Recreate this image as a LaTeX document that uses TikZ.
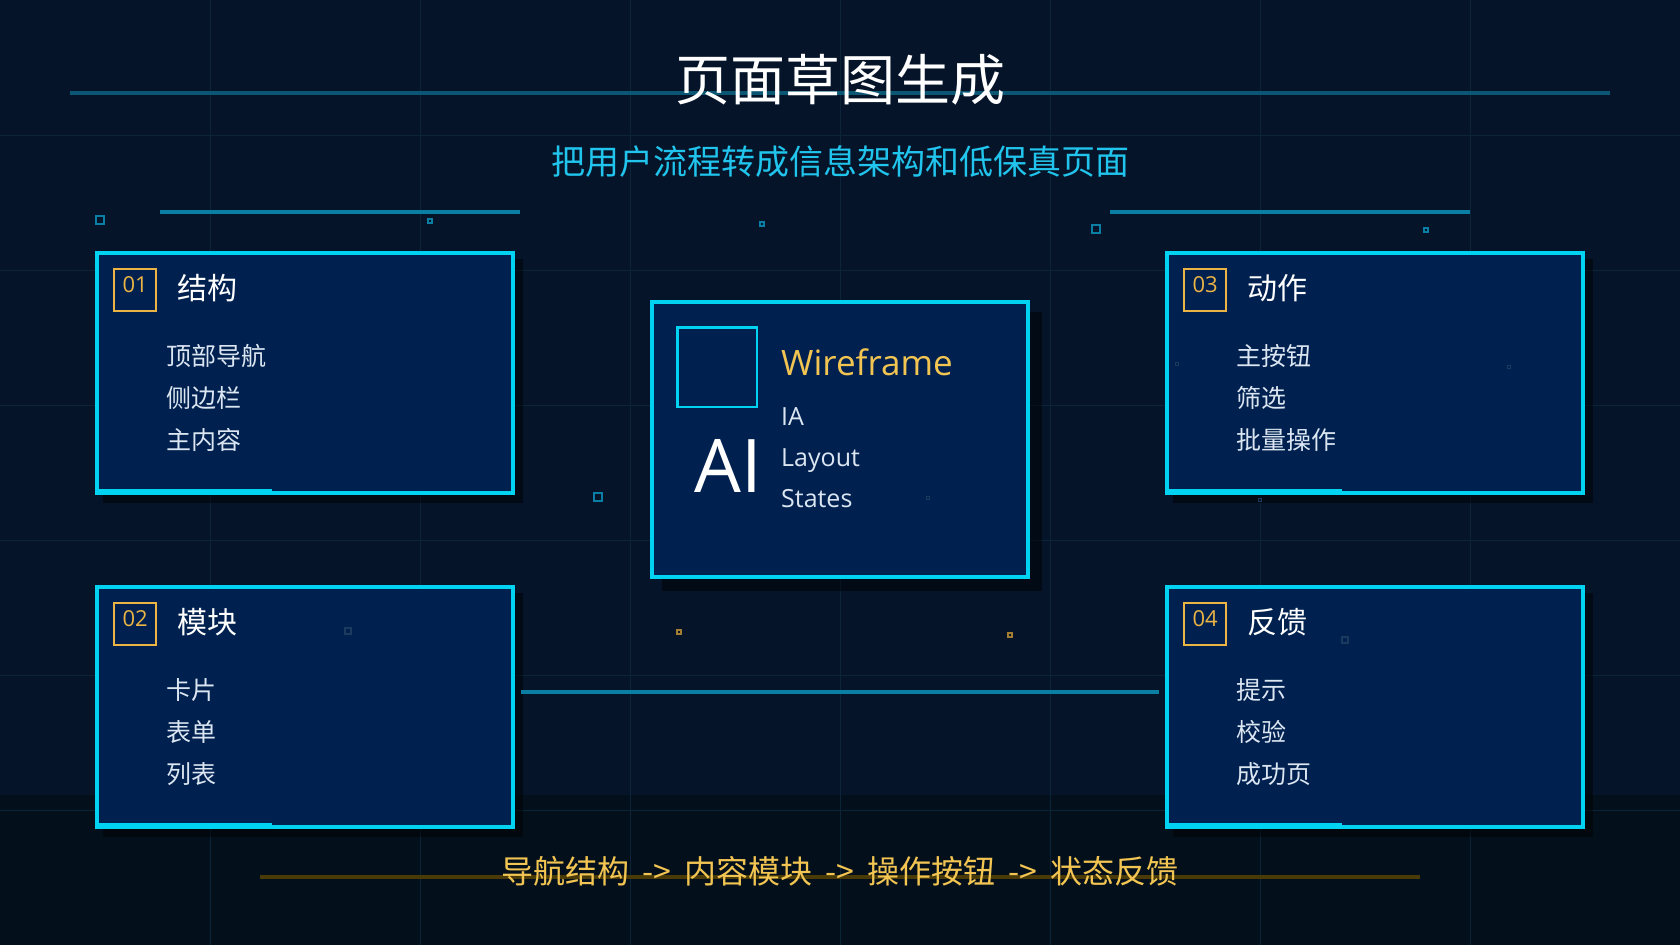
\documentclass[tikz,border=0pt]{standalone}
\usepackage{fontspec}
\setmainfont{Noto Sans CJK SC}
\newfontfamily\wirefont{Open Sans}
\usetikzlibrary{positioning}

\definecolor{bgnavy}{HTML}{051429}
\definecolor{bandnavy}{HTML}{03101B}
\definecolor{gridblue}{HTML}{0B2438}
\definecolor{cardfill}{HTML}{00214F}
\definecolor{neon}{HTML}{00D2F2}
\definecolor{tealline}{HTML}{0A7FA3}
\definecolor{titleline}{HTML}{0B5673}
\definecolor{amber}{HTML}{EBB444}
\definecolor{subcyan}{HTML}{20C4EC}
\definecolor{itemfg}{HTML}{DCE6F2}
\definecolor{oliveline}{HTML}{4A3A05}
\definecolor{wiregold}{HTML}{F2C452}
\definecolor{dimdot}{HTML}{1B3A5E}

\tikzset{
    card/.style={draw=neon, line width=4pt, fill=cardfill, anchor=north west,
        minimum width=416pt, minimum height=240pt, inner sep=0pt},
    cardshadow/.style={fill=black, opacity=0.45},
    accent/.style={draw=neon, line width=2.5pt},
    numbox/.style={draw=amber, line width=2.2pt, minimum size=42pt, inner sep=0pt, anchor=north west},
    numlabel/.style={text=amber, inner sep=0pt, anchor=base, font=\wirefont\fontsize{22}{22}\selectfont},
    cardtitle/.style={text=white, inner sep=0pt, anchor=west, font=\fontsize{30}{30}\selectfont},
    itemlabel/.style={text=itemfg, inner sep=0pt, anchor=west, font=\fontsize{25}{25}\selectfont},
    wirelabel/.style={text=itemfg, inner sep=0pt, anchor=base west, font=\wirefont\fontsize{25}{25}\selectfont},
    dot/.style={draw=tealline, line width=2pt, minimum size=8pt, inner sep=0pt},
    tinydot/.style={draw=tealline, line width=2pt, minimum size=4pt, inner sep=0pt},
    golddot/.style={draw=amber!70!black, line width=2pt, minimum size=4pt, inner sep=0pt},
    faintdot/.style={draw=dimdot, line width=1.5pt, minimum size=6pt, inner sep=0pt},
    link/.style={draw=tealline, line width=4pt, shorten <=6pt, shorten >=6pt},
}

\newcommand{\stepcard}[8]{%
    \fill[cardshadow] (#2+8,#3+8) rectangle ++(420,244);
    \node[card] (#1) at (#2,#3) {};
    \draw[accent] (#2+2,#3+238.8) -- ++(175,0);
    \node[numbox] (#1n) at (#2+18,#3+17) {};
    \node[numlabel] (#1t) at ([yshift=-24pt]#1n.north) {#4};
    \node[cardtitle, right=20pt of #1n, yshift=2pt] (#1h) {#5};
    \node[itemlabel] (#1a) at (#2+71,#3+105) {#6};
    \node[itemlabel] (#1b) at ([yshift=-42pt]#1a.west) {#7};
    \node[itemlabel] (#1c) at ([yshift=-42pt]#1b.west) {#8};
}
\newcommand{\flowarrow}{\hspace{13pt}->\hspace{13pt}}

\begin{document}
\begin{tikzpicture}[x=1pt, y=-1pt]
    \useasboundingbox (0,0) rectangle (1680,945);
    \fill[bgnavy] (0,0) rectangle (1680,945);
    \fill[bandnavy] (0,795) rectangle (1680,945);
    \foreach \x in {210,420,...,1470}
        \draw[gridblue, line width=1pt] (\x,0) -- (\x,945);
    \foreach \y in {135,270,...,810}
        \draw[gridblue, line width=1pt] (0,\y) -- (1680,\y);

    \draw[titleline, line width=4pt] (70,93) -- (1610,93);
    \node[text=white, font=\fontsize{55}{55}\selectfont] (title) at (840,80) {页面草图生成};
    \node[text=subcyan, font=\fontsize{34}{34}\selectfont] (subtitle) at (840,162) {把用户流程转成信息架构和低保真页面};
    \draw[tealline, line width=4pt] (160,212) -- (520,212);
    \draw[tealline, line width=4pt] (1110,212) -- (1470,212);

    \node[dot] (d1) at (100,220) {};
    \node[tinydot] (d2) at (430,221) {};
    \node[tinydot] (d3) at (762,224) {};
    \node[dot] (d4) at (1096,229) {};
    \node[tinydot] (d5) at (1426,230) {};
    \node[dot] (d6) at (598,497) {};
    \node[golddot] (g1) at (679,632) {};
    \node[golddot] (g2) at (1010,635) {};

    \stepcard{b01}{95}{251}{01}{结构}{顶部导航}{侧边栏}{主内容}
    \stepcard{b02}{95}{585}{02}{模块}{卡片}{表单}{列表}
    \stepcard{b03}{1165}{251}{03}{动作}{主按钮}{筛选}{批量操作}
    \stepcard{b04}{1165}{585}{04}{反馈}{提示}{校验}{成功页}

    \node[faintdot] (f1) at (348,631) {};
    \node[faintdot] (f2) at (1345,640) {};
    \node[faintdot, minimum size=3pt] (f3) at (1177,364) {};
    \node[faintdot, minimum size=3pt] (f4) at (1509,367) {};
    \node[faintdot, minimum size=3pt] (f5) at (1260,500) {};

    \fill[cardshadow] (662,312) rectangle (1042,591);
    \node[card, minimum width=376pt, minimum height=275pt] (wire) at (650,300) {};
    \node[draw=neon, line width=2.5pt, minimum size=79.5pt, inner sep=0pt] (icon) at (717,367) {};
    \node[text=white, inner sep=0pt, anchor=base west, font=\wirefont\fontsize{74}{74}\selectfont] (ai) at (694,492) {AI};
    \node[text=wiregold, inner sep=0pt, anchor=base west, font=\wirefont\fontsize{35}{35}\selectfont] (wf) at (781,375) {Wireframe};
    \node[wirelabel] (ia) at (781,425) {IA};
    \node[wirelabel] (layout) at (781,466) {Layout};
    \node[wirelabel] (states) at (781,507) {States};
    \node[faintdot, minimum size=3pt] (f6) at (928,498) {};

    \draw[link] ([yshift=15pt]b02.east) -- ([yshift=15pt]b04.west);

    \draw[oliveline, line width=4pt] (260,877) -- (1420,877);
    \node[text=wiregold, font=\fontsize{32}{32}\selectfont] (flow) at (840,871)
        {导航结构\flowarrow 内容模块\flowarrow 操作按钮\flowarrow 状态反馈};
\end{tikzpicture}
\end{document}
